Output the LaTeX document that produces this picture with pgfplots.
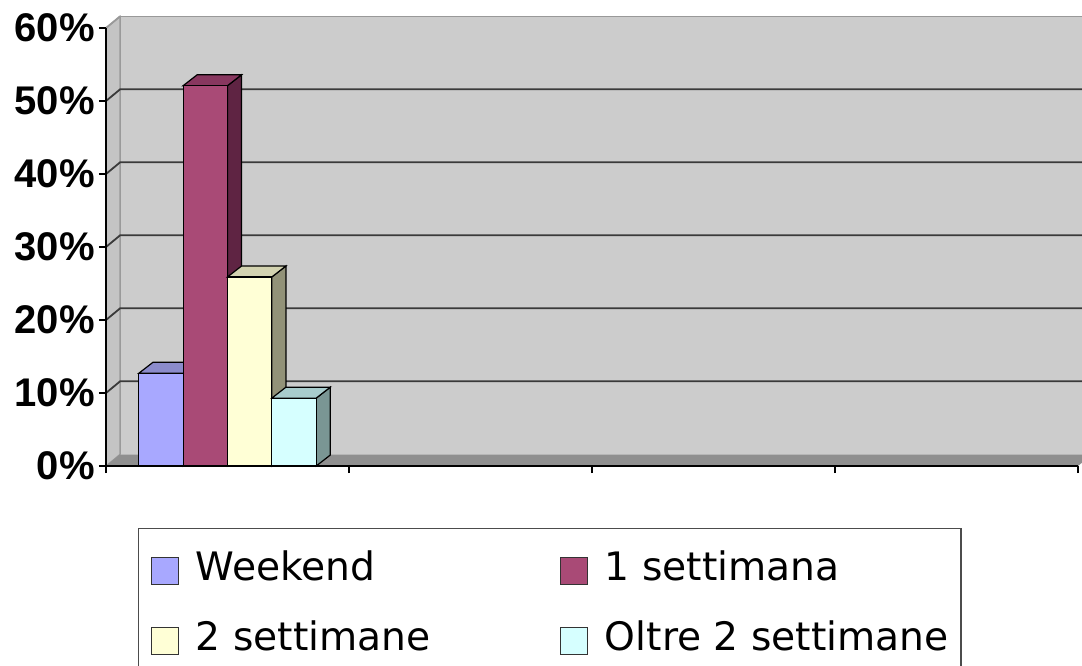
\documentclass[border=0pt]{standalone}
\usepackage{fontspec}
\setmainfont{Liberation Sans}
\newfontfamily\legfont{DejaVu Sans}
\usepackage{pgfplots}
\pgfplotsset{compat=1.18}
\definecolor{wallc}{HTML}{CCCCCC}
\definecolor{sidewallc}{HTML}{C4C4C4}
\definecolor{floorc}{HTML}{8F8F8F}
\definecolor{gridc}{HTML}{3A3A3A}
\definecolor{wkF}{HTML}{A8A8FF}\definecolor{wkT}{HTML}{8B8BCB}\definecolor{wkS}{HTML}{6A6A9C}
\definecolor{s1F}{HTML}{A94A76}\definecolor{s1T}{HTML}{88375F}\definecolor{s1S}{HTML}{5F2443}
\definecolor{s2F}{HTML}{FFFFD6}\definecolor{s2T}{HTML}{D3D3B0}\definecolor{s2S}{HTML}{929278}
\definecolor{otF}{HTML}{D6FFFF}\definecolor{otT}{HTML}{A8CCCC}\definecolor{otS}{HTML}{7A9694}
\begin{document}
\begin{tikzpicture}
\begin{axis}[
  name=ax, scale only axis, width=486pt, height=219pt,
  xmin=0, xmax=4, ymin=0, ymax=60, clip=false, axis on top,
  axis x line=bottom, axis y line=left,
  axis line style={-, black, line width=0.8pt},
  xtick={0,1,2,3,4}, xticklabel={\phantom{0}},
  ytick={0,10,...,60},
  yticklabel={\pgfmathprintnumber{\tick}\%},
  /pgf/number format/assume math mode=true,
  tick align=outside, major tick length=3.5pt,
  tick style={black, line width=0.8pt},
  yticklabel style={font=\fontsize{20}{20}\selectfont\bfseries, inner xsep=2pt},
  legend columns=2,
  legend cell align=left,
  legend image code/.code={\draw[#1, draw=black!80, line width=0.6pt] (0pt,-6.75pt) rectangle (13.5pt,6.75pt);},
  legend style={at={(0.0329,-0.1416)}, anchor=north west, draw=black!70, line width=0.6pt, fill=white,
    font=\legfont\fontsize{19.6}{24}\selectfont, inner xsep=6pt, inner ysep=11pt,
    nodes={inner sep=0pt, text height=15pt, text depth=5pt},
    row sep=15pt,
    /tikz/every odd column/.append style={column sep=8.5pt}},
]
% walls and floor (decoration)
\fill[wallc] (axis cs:0.058,1.6) rectangle (axis cs:4.058,61.6);
\draw[gray!80, line width=0.6pt] (axis cs:0.058,1.6) -- (axis cs:0.058,61.6) -- (axis cs:4.058,61.6);
\filldraw[fill=sidewallc, draw=gray!80, line width=0.6pt] (axis cs:0,0) -- (axis cs:0.058,1.6) -- (axis cs:0.058,61.6) -- (axis cs:0,60) -- cycle;
\fill[floorc] (axis cs:0,0) -- (axis cs:4,0) -- (axis cs:4.058,1.6) -- (axis cs:0.058,1.6) -- cycle;
\draw[gridc, line width=0.9pt] (axis cs:0,10) -- (axis cs:0.058,11.6) -- (axis cs:4.058,11.6);
\draw[gridc, line width=0.9pt] (axis cs:0,20) -- (axis cs:0.058,21.6) -- (axis cs:4.058,21.6);
\draw[gridc, line width=0.9pt] (axis cs:0,30) -- (axis cs:0.058,31.6) -- (axis cs:4.058,31.6);
\draw[gridc, line width=0.9pt] (axis cs:0,40) -- (axis cs:0.058,41.6) -- (axis cs:4.058,41.6);
\draw[gridc, line width=0.9pt] (axis cs:0,50) -- (axis cs:0.058,51.6) -- (axis cs:4.058,51.6);
\draw[gray!80, line width=0.9pt] (axis cs:0,60) -- (axis cs:0.058,61.6);
% Weekend 12.7
\addplot[fill=wkS, draw=black, line width=0.6pt, forget plot] coordinates {(0.3175,0) (0.3755,1.5) (0.3755,14.2) (0.3175,12.7)} --cycle;
\addplot[fill=wkT, draw=black, line width=0.6pt, forget plot] coordinates {(0.135,12.7) (0.3175,12.7) (0.3755,14.2) (0.193,14.2)} --cycle;
\addplot[fill=wkF, draw=black, line width=0.6pt] coordinates {(0.135,0) (0.3175,0) (0.3175,12.7) (0.135,12.7)} --cycle;
\addlegendentry{\makebox[182pt][l]{Weekend}}
% 1 settimana 52.1
\addplot[fill=s1S, draw=black, line width=0.6pt, forget plot] coordinates {(0.5,0) (0.558,1.5) (0.558,53.6) (0.5,52.1)} --cycle;
\addplot[fill=s1T, draw=black, line width=0.6pt, forget plot] coordinates {(0.3175,52.1) (0.5,52.1) (0.558,53.6) (0.3755,53.6)} --cycle;
\addplot[fill=s1F, draw=black, line width=0.6pt] coordinates {(0.3175,0) (0.5,0) (0.5,52.1) (0.3175,52.1)} --cycle;
\addlegendentry{\makebox[172pt][l]{1 settimana}}
% 2 settimane 25.9
\addplot[fill=s2S, draw=black, line width=0.6pt, forget plot] coordinates {(0.6825,0) (0.7405,1.5) (0.7405,27.4) (0.6825,25.9)} --cycle;
\addplot[fill=s2T, draw=black, line width=0.6pt, forget plot] coordinates {(0.5,25.9) (0.6825,25.9) (0.7405,27.4) (0.558,27.4)} --cycle;
\addplot[fill=s2F, draw=black, line width=0.6pt] coordinates {(0.5,0) (0.6825,0) (0.6825,25.9) (0.5,25.9)} --cycle;
\addlegendentry{\makebox[182pt][l]{2 settimane}}
% Oltre 2 settimane 9.3
\addplot[fill=otS, draw=black, line width=0.6pt, forget plot] coordinates {(0.865,0) (0.923,1.5) (0.923,10.8) (0.865,9.3)} --cycle;
\addplot[fill=otT, draw=black, line width=0.6pt, forget plot] coordinates {(0.6825,9.3) (0.865,9.3) (0.923,10.8) (0.7405,10.8)} --cycle;
\addplot[fill=otF, draw=black, line width=0.6pt] coordinates {(0.6825,0) (0.865,0) (0.865,9.3) (0.6825,9.3)} --cycle;
\addlegendentry{\makebox[172pt][l]{Oltre 2 settimane}}
\end{axis}
\pgfresetboundingbox
\path[use as bounding box] ([xshift=-53pt,yshift=-99.5pt]ax.south west) rectangle ([xshift=488pt,yshift=233pt]ax.south west);
\end{tikzpicture}
\end{document}
